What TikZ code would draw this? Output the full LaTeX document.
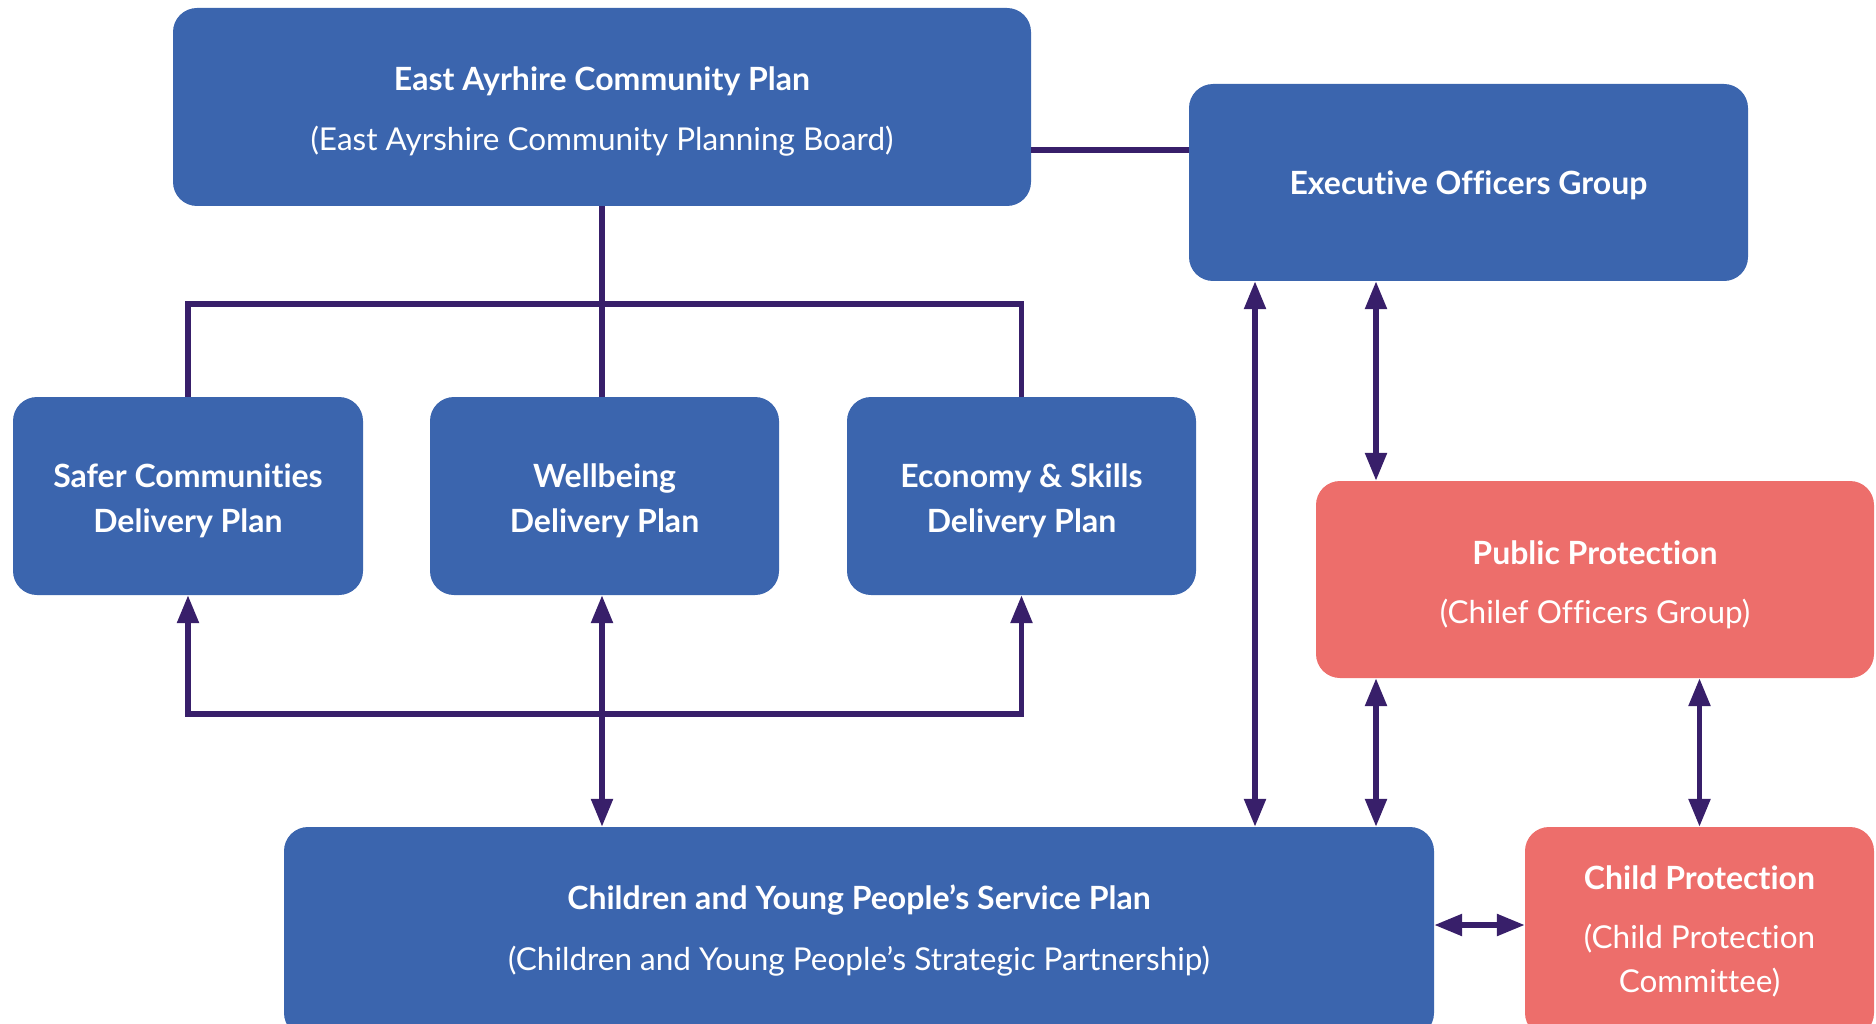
\documentclass[tikz,border=0pt]{standalone}
\usepackage{fontspec}
\setmainfont{Lato}[Ligatures=NoCommon]
\usetikzlibrary{arrows.meta,calc}
\definecolor{boxblue}{RGB}{59,101,174}
\definecolor{boxred}{RGB}{237,110,107}
\definecolor{linepurple}{RGB}{56,31,106}
\tikzset{
  box/.style={rounded corners=24pt, inner sep=0pt, draw=none},
  bluebox/.style={box, fill=boxblue},
  redbox/.style={box, fill=boxred},
  ttl/.style={text=white, font=\fontsize{32}{45}\selectfont\bfseries, align=center, inner sep=0pt},
  sub/.style={text=white, font=\fontsize{31.5}{44}\selectfont, align=center, inner sep=0pt},
  conn/.style={draw=linepurple, line width=5.5pt},
  arr/.style={conn, {Triangle[length=28pt,width=21pt]}-{Triangle[length=28pt,width=21pt]}},
}
\begin{document}
\begin{tikzpicture}[x=1pt,y=-1pt]
\useasboundingbox (0,0) rectangle (1876,1024);
\clip (0,0) rectangle (1876,1024);
% boxes
\node[bluebox, minimum width=858pt, minimum height=198pt] (top) at (602,107) {};
\node[bluebox, minimum width=559pt, minimum height=197pt] (exec) at (1468.5,182.5) {};
\node[bluebox, minimum width=350pt, minimum height=198pt] (safer) at (188,496) {};
\node[bluebox, minimum width=349pt, minimum height=198pt] (well) at (604.5,496) {};
\node[bluebox, minimum width=349pt, minimum height=198pt] (econ) at (1021.5,496) {};
\node[redbox, minimum width=558pt, minimum height=197pt] (pp) at (1595,579.5) {};
\node[bluebox, minimum width=1150pt, minimum height=210pt] (cyp) at (859,932) {};
\node[redbox, minimum width=349pt, minimum height=210pt] (cp) at (1699.5,932) {};
% texts
\node[ttl] (topT) at (602,81) {East Ayrhire Community Plan};
\node[sub] (topS) at (602,141) {(East Ayrshire Community Planning Board)};
\node[ttl] (execT) at (1468.5,185) {Executive Officers Group};
\node[ttl] (saferT) at (188,501) {Safer Communities\\Delivery Plan};
\node[ttl] (wellT) at (604.5,501) {Wellbeing\\Delivery Plan};
\node[ttl] (econT) at (1021.5,501) {Economy \& Skills\\Delivery Plan};
\node[ttl] (ppT) at (1595,553) {Public Protection};
\node[sub] (ppS) at (1595,614) {(Chilef Officers Group)};
\node[ttl] (cypT) at (859,900) {Children and Young People’s Service Plan};
\node[sub] (cypS) at (859,961) {(Children and Young People’s Strategic Partnership)};
\node[ttl] (cpT) at (1699.5,878) {Child Protection};
\node[sub] (cpS) at (1699.5,961) {(Child Protection\\Committee)};
% tree
\coordinate (hub) at (602,304);
\draw[conn] (top.south -| hub) -- (well.north -| hub);
\draw[conn] (safer.north) -- (safer.north |- hub) -- (econ.north |- hub) -- (econ.north);
\draw[conn] (top.east |- 0,150) -- (exec.west |- 0,150);
% arrows
\coordinate (loop) at (602,714);
\draw[arr] (safer.south) -- (safer.south |- loop) -- (econ.south |- loop) -- (econ.south);
\draw[arr] (well.south -| loop) -- (cyp.north -| loop);
\draw[arr] (exec.south -| 1255,0) -- (cyp.north -| 1255,0);
\draw[arr] (exec.south -| 1376,0) -- (pp.north -| 1376,0);
\draw[arr] (pp.south -| 1376,0) -- (cyp.north -| 1376,0);
\draw[arr] (pp.south -| cp.north) -- (cp.north);
\draw[arr] (cyp.east |- 0,925) -- (cp.west |- 0,925);
\end{tikzpicture}
\end{document}
